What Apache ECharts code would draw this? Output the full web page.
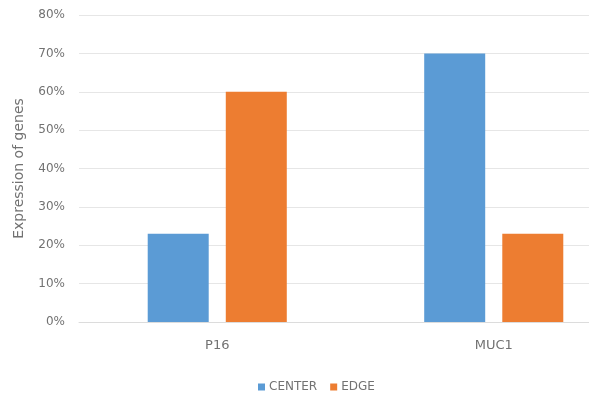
<!DOCTYPE html>
<html>
<head>
<meta charset="utf-8">
<script src="https://cdn.jsdelivr.net/npm/echarts@6/dist/echarts.min.js"></script>
<style>
  html, body { margin: 0; padding: 0; background: #fff; }
  #chart { width: 589px; height: 394px; }
</style>
</head>
<body>
<div id="chart"></div>
<script>
const genes = ['P16', 'MUC1']
const genePos = [0, 1]
const centerValues = [23, 70]
const edgeValues = [60, 23]

// the plot runs off the right edge in the reference, so x is a value axis
// cut at 1.34 instead of a full category band
const toPairs = vals => vals.map((v, i) => [genePos[i], v])

const chart = echarts.init(document.getElementById('chart'))
chart.setOption({
  animation: false,
  textStyle: { fontFamily: 'DejaVu Sans, sans-serif' },
  grid: { left: 79, top: 15, right: 0, bottom: 72 },
  legend: {
    data: ['CENTER', 'EDGE'],
    left: 253,
    top: 376,
    itemWidth: 7,
    itemHeight: 7,
    itemGap: 13,
    icon: 'rect',
    textStyle: { color: '#727272', fontSize: 12, padding: [0, 0, 0, -1] }
  },
  xAxis: {
    type: 'value',
    min: -0.5,
    max: 1.3445,
    splitLine: { show: false },
    axisLine: { show: true, onZero: false, lineStyle: { color: '#dcdcdc' } },
    axisTick: { show: false },
    axisLabel: {
      customValues: genePos,
      color: '#727272',
      fontSize: 13,
      margin: 17,
      formatter: v => genes[Math.round(v)]
    }
  },
  yAxis: {
    type: 'value',
    min: 0,
    max: 80,
    interval: 10,
    name: 'Expression of genes',
    nameLocation: 'middle',
    nameGap: 53,
    nameTextStyle: { color: '#727272', fontSize: 14 },
    axisLine: { show: false, onZero: false },
    axisTick: { show: false },
    axisLabel: { color: '#727272', fontSize: 12, formatter: '{value}%', margin: 14 },
    splitLine: { lineStyle: { color: '#e6e6e6' } }
  },
  series: [
    {
      name: 'CENTER',
      type: 'bar',
      data: toPairs(centerValues),
      barWidth: 61,
      barGap: '28%',
      itemStyle: { color: '#5B9BD5' }
    },
    {
      name: 'EDGE',
      type: 'bar',
      data: toPairs(edgeValues),
      barWidth: 61,
      itemStyle: { color: '#ED7D31' }
    }
  ]
})
</script>
</body>
</html>
